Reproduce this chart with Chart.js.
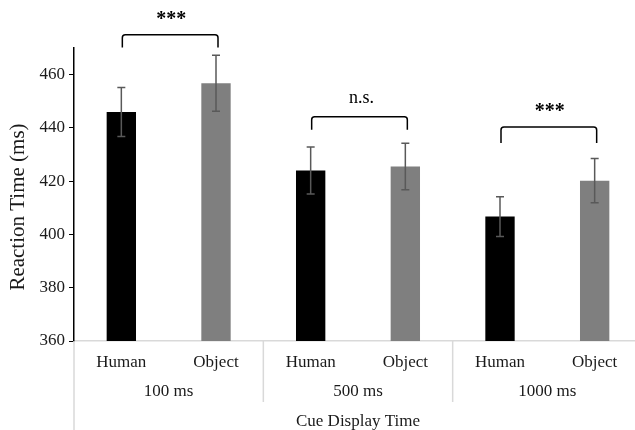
<!DOCTYPE html>
<html>
<head>
<meta charset="utf-8">
<script src="https://cdn.jsdelivr.net/npm/chart.js@4.4.1/dist/chart.umd.min.js"></script>
<style>
  html, body { margin: 0; padding: 0; background: #fff; overflow: hidden; }
  #wrap { width: 635px; height: 430px; overflow: hidden; }
</style>
</head>
<body>
<div id="wrap"><canvas id="myChart" width="642" height="430"></canvas></div>
<script>
// chart values
const groups = ['100 ms', '500 ms', '1000 ms'];
const conditions = ['Human', 'Object'];
const humanRT = [446, 424, 406.7];
const objectRT = [456.8, 425.5, 420.2];
const humanErr = [9.2, 8.8, 7.5];
const objectErr = [10.5, 8.7, 8.3];
const yTicks = [360, 380, 400, 420, 440, 460];

// significance brackets (in ms units)
const sigLabels = ['***', 'n.s.', '***'];
const bracketTop = [475, 444.2, 440.3];
const bracketEnd = [470.2, 439.3, 434.3];

const serif = '"Liberation Serif", "Times New Roman", serif';

// flatten into one bar per condition
const labels = [];
const values = [];
const errors = [];
const colors = [];
groups.forEach((g, i) => {
    labels.push(conditions[0], conditions[1]);
    values.push(humanRT[i], objectRT[i]);
    errors.push(humanErr[i], objectErr[i]);
    colors.push('#000000', '#7f7f7f');
});

const extras = {
    id: 'extras',
    afterDatasetsDraw(chart) {
        const ctx = chart.ctx;
        const y = chart.scales.y;
        const bars = chart.getDatasetMeta(0).data;
        ctx.save();
        ctx.strokeStyle = '#595959';
        ctx.lineWidth = 1.5;
        bars.forEach((bar, i) => {
            const top = y.getPixelForValue(values[i] + errors[i]);
            const bot = y.getPixelForValue(values[i] - errors[i]);
            ctx.beginPath();
            ctx.moveTo(bar.x, top); ctx.lineTo(bar.x, bot);
            ctx.moveTo(bar.x - 4, top); ctx.lineTo(bar.x + 4, top);
            ctx.moveTo(bar.x - 4, bot); ctx.lineTo(bar.x + 4, bot);
            ctx.stroke();
        });
        ctx.restore();
    },
    afterDraw(chart) {
        const ctx = chart.ctx;
        const x = chart.scales.x;
        const y = chart.scales.y;
        const area = chart.chartArea;
        ctx.save();

        // y axis line continues down through the category area
        ctx.strokeStyle = '#d9d9d9';
        ctx.lineWidth = 1.5;
        ctx.beginPath();
        ctx.moveTo(area.left, area.bottom);
        ctx.lineTo(area.left, chart.height);
        ctx.stroke();

        // group separators and labels
        ctx.fillStyle = '#1a1a1a';
        ctx.font = '17px ' + serif;
        ctx.textAlign = 'center';
        ctx.textBaseline = 'middle';
        groups.forEach((g, i) => {
            const a = x.getPixelForValue(i * 2);
            const b = x.getPixelForValue(i * 2 + 1);
            ctx.fillText(g, (a + b) / 2, area.bottom + 51);
            if (i > 0) {
                const sep = a - (b - a) / 2;
                ctx.beginPath();
                ctx.moveTo(sep, area.bottom);
                ctx.lineTo(sep, area.bottom + 61);
                ctx.stroke();
            }
        });

        // axis titles
        ctx.fillText('Cue Display Time', (area.left + area.right) / 2, area.bottom + 81);
        ctx.save();
        ctx.translate(18, 207);
        ctx.rotate(-Math.PI / 2);
        ctx.font = '21px ' + serif;
        ctx.fillText('Reaction Time (ms)', 0, 0);
        ctx.restore();

        // significance brackets
        ctx.strokeStyle = '#000';
        ctx.lineWidth = 1.5;
        ctx.fillStyle = '#000';
        groups.forEach((g, i) => {
            const a = x.getPixelForValue(i * 2) + 1;
            const b = x.getPixelForValue(i * 2 + 1) + 2;
            const t = y.getPixelForValue(bracketTop[i]);
            const e = y.getPixelForValue(bracketEnd[i]);
            const r = 3;
            ctx.beginPath();
            ctx.moveTo(a, e);
            ctx.lineTo(a, t + r);
            ctx.quadraticCurveTo(a, t, a + r, t);
            ctx.lineTo(b - r, t);
            ctx.quadraticCurveTo(b, t, b, t + r);
            ctx.lineTo(b, e);
            ctx.stroke();
            if (sigLabels[i] === 'n.s.') {
                ctx.font = '18px ' + serif;
                ctx.fillText(sigLabels[i], (a + b) / 2 + 2, t - 18);
            } else {
                ctx.font = 'bold 20px ' + serif;
                ctx.fillText(sigLabels[i], (a + b) / 2 + 1, t - 15);
            }
        });
        ctx.restore();
    }
};

const ctx = document.getElementById('myChart').getContext('2d');
const myChart = new Chart(ctx, {
    type: 'bar',
    data: {
        labels: labels,
        datasets: [{
            label: 'Reaction Time',
            data: values,
            backgroundColor: colors,
            borderWidth: 0,
            categoryPercentage: 1,
            barPercentage: 0.31
        }]
    },
    options: {
        responsive: false,
        animation: false,
        layout: { padding: { top: 48, left: 0, right: 0, bottom: 0 } },
        plugins: {
            legend: { display: false },
            tooltip: { enabled: false }
        },
        scales: {
            x: {
                grid: { display: false, drawTicks: false },
                border: { color: '#d9d9d9', width: 1.5 },
                ticks: {
                    color: '#1a1a1a',
                    font: { family: serif, size: 17 },
                    padding: 11,
                    maxRotation: 0
                },
                afterFit(scale) { scale.height = 89; }
            },
            y: {
                min: 360,
                max: 470,
                afterBuildTicks(scale) {
                    scale.ticks = yTicks.map(v => ({ value: v }));
                },
                grid: {
                    drawOnChartArea: false,
                    drawTicks: true,
                    tickLength: 5,
                    color: '#000'
                },
                border: { color: '#000', width: 1.5 },
                ticks: {
                    color: '#1a1a1a',
                    font: { family: serif, size: 17 },
                    padding: 4
                },
                afterFit(scale) { scale.width = 74; }
            }
        }
    },
    plugins: [extras]
});
</script>
</body>
</html>
